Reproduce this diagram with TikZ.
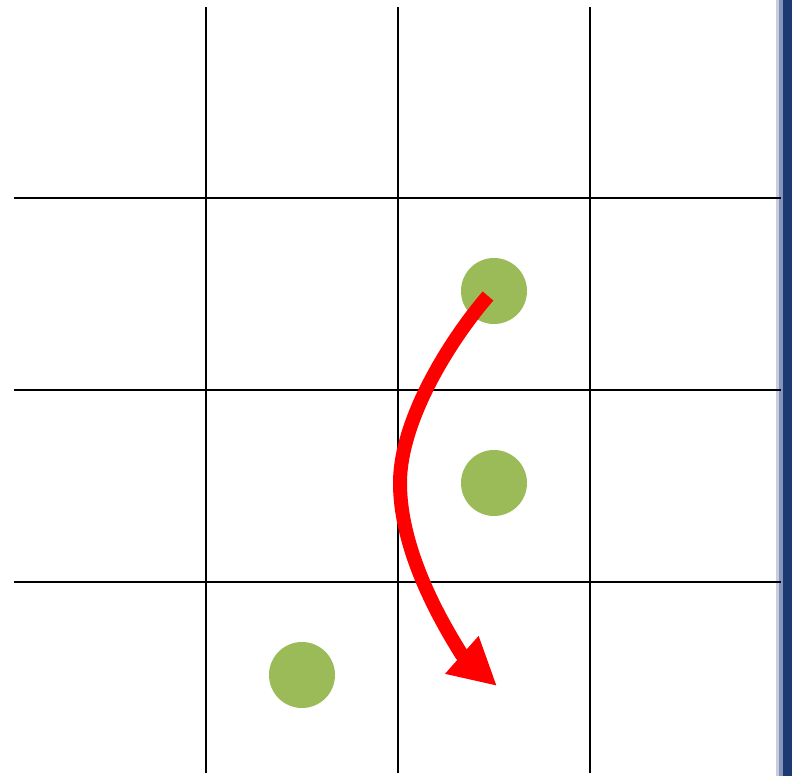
\documentclass[tikz,border=0pt]{standalone}
\usetikzlibrary{arrows.meta}
\definecolor{dotgreen}{HTML}{9BBB59}
\definecolor{navy}{HTML}{1B3A72}
\definecolor{midblue}{HTML}{8794BA}
\definecolor{paleblue}{HTML}{C8CDE0}
\begin{document}
\begin{tikzpicture}[x=1pt,y=-1pt,
  gridline/.style={black,line width=2pt},
  dot/.style={circle,fill=dotgreen,minimum size=66pt,inner sep=0pt},
  movearrow/.style={red,line width=14pt,line join=round,-{Triangle[length=47pt,width=47pt]}}]
\useasboundingbox (0,0) rectangle (792,776);
\fill[paleblue] (776,0) rectangle (779,776);
\fill[midblue] (779,0) rectangle (783,776);
\fill[navy] (783,0) rectangle (792,776);
\foreach \x in {206,398,590} \draw[gridline] (\x,7) -- (\x,773);
\foreach \y in {198,390,582} \draw[gridline] (14,\y) -- (781,\y);
\node[dot] (d1) at (494,291) {};
\node[dot] (d2) at (494,483) {};
\node[dot] (d3) at (302,675) {};
\coordinate (s) at (488,296);
\coordinate (m) at (400,483);
\coordinate (b) at (462,655);
\coordinate (e) at (497,686);
\draw[movearrow] (s) .. controls (450,340) and (400,420) .. (m)
  .. controls (400,550) and (440,620) .. (b) -- (e);
\end{tikzpicture}
\end{document}
